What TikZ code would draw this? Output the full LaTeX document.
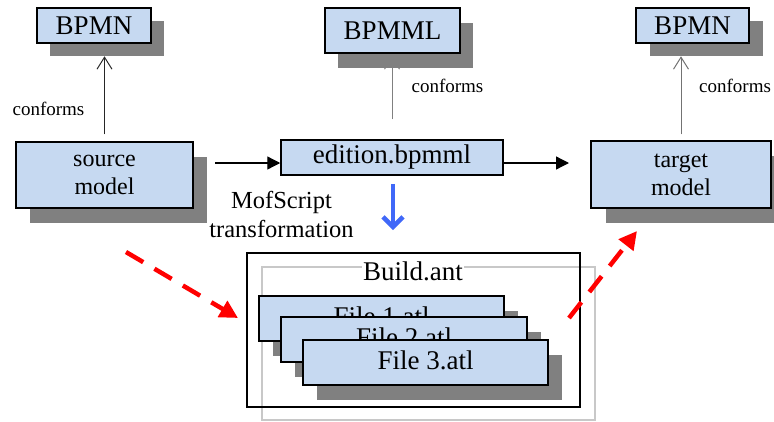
\documentclass[tikz,border=0pt]{standalone}
\usepackage{fontspec}
\setmainfont{Liberation Serif}
\usetikzlibrary{arrows.meta,shadows}
\definecolor{boxblue}{RGB}{198,217,241}
\definecolor{shadowgray}{RGB}{128,128,128}
\definecolor{arrowblue}{RGB}{64,104,248}
\definecolor{framegray}{RGB}{200,200,200}
\begin{document}
\begin{tikzpicture}[x=1pt,y=-1pt,
  box/.style={draw=black, line width=1.5pt, fill=boxblue, inner sep=0pt, align=center},
  shad/.style 2 args={drop shadow={shadow xshift=#1pt, shadow yshift=-#2pt, fill=shadowgray, opacity=1}},
  bigtxt/.style={font=\fontsize{27}{30}\selectfont},
  midtxt/.style={font=\fontsize{24}{28}\selectfont},
  conf/.style={font=\fontsize{19}{22}\selectfont, inner sep=0pt, anchor=base},
  openarr/.style={line width=1pt, -{Straight Barb[length=12pt,width=15pt]}},
  flowarr/.style={line width=1.3pt, -{Triangle[length=13pt,width=13pt]}},
  redarr/.style={red, line width=4.5pt, dash pattern=on 20pt off 13pt, -{Triangle[length=18pt,width=18pt]}},
]
\useasboundingbox (0,0) rectangle (774,421);

% conforms connectors (drawn first, boxes cover their heads)
\node[box, midtxt, minimum width=177pt, minimum height=66pt, shad={14}{15}] (src) at (104.5,175) {source\\model};
\node[box, midtxt, minimum width=180pt, minimum height=67pt, shad={15}{15}] (tgt) at (681,174.5) {target\\model};
\node[box, bigtxt, minimum width=222pt, minimum height=35pt] (ed) at (392,157.5) {edition.bpmml};

\draw[openarr, black!85] ([yshift=7pt]src.north) -- ++(0,-78);
\draw[openarr, black!50] ([yshift=20pt]ed.north) -- ++(0,-63);
\draw[openarr, black!55] ([yshift=6pt]tgt.north) -- ++(0,-78);

\node[box, bigtxt, minimum width=114pt, minimum height=35pt, shad={13}{13}] (b1) at (94,25.5) {BPMN};
\node[box, bigtxt, minimum width=135pt, minimum height=45pt, shad={13}{15}] (b2) at (392.5,30.5) {BPMML};
\node[box, bigtxt, minimum width=113pt, minimum height=35pt, shad={14}{13}] (b3) at (692.5,25.5) {BPMN};

\node[conf] (c1) at (48.5,115) {conforms};
\node[conf] (c2) at (447.5,92) {conforms};
\node[conf, anchor=base west] (c3) at (699,92) {conforms};

% flow arrows
\coordinate (a1) at (215,163);
\coordinate (a2) at (569,163);
\draw[flowarr] (a1) -- (ed.west |- a1);
\draw[flowarr] (ed.east |- a1) -- (a2);

\node[midtxt, align=center, inner sep=0pt, font=\fontsize{24.5}{29}\selectfont] (mof) at (281.5,214.5) {MofScript\\transformation};

\coordinate (bt) at (393,230);
\draw[arrowblue, line width=4.5pt, -{Straight Barb[length=10pt,width=20pt]}] ([yshift=-8pt]ed.south -| bt) -- (bt);

% build container
\node[draw=framegray, line width=1.3pt, minimum width=333pt, minimum height=153pt, inner sep=0pt] (frame) at (428.5,343.5) {};
\node[draw=black, line width=1.8pt, minimum width=333pt, minimum height=154pt, inner sep=0pt] (build) at (413.5,330) {};
\node[bigtxt, fill=white, inner sep=1pt, anchor=base] (bt2) at (413,280) {Build.ant};

\node[box, bigtxt, minimum width=245pt, minimum height=45pt, shad={14}{15}] (f1) at (381.5,318.5) {\raisebox{4pt}{File 1.atl}};
\node[box, bigtxt, minimum width=246pt, minimum height=45pt, shad={14}{15}] (f2) at (404,339.5) {\raisebox{4pt}{File 2.atl}};
\node[box, bigtxt, minimum width=245pt, minimum height=45pt, shad={14}{15}] (f3) at (425.5,362.5) {\raisebox{4pt}{File 3.atl}};

% red dashed arrows
\coordinate (r1s) at (126,252);
\coordinate (r1e) at (238,318);
\coordinate (r2s) at (569,318);
\coordinate (r2e) at (637,231);
\draw[redarr] (r1s) -- (r1e);
\draw[redarr] (r2s) -- (r2e);
\end{tikzpicture}
\end{document}
